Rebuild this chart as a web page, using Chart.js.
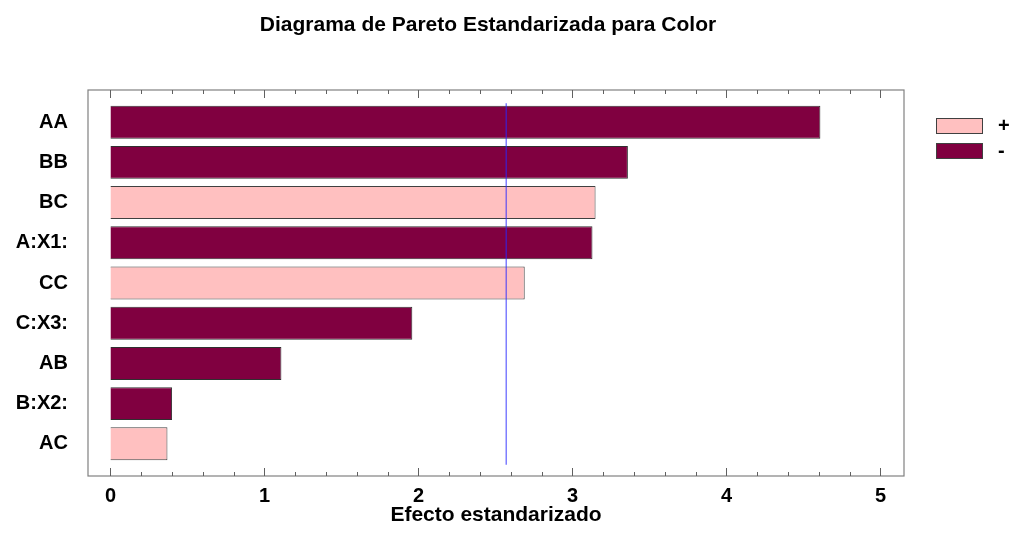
<!DOCTYPE html>
<html>
<head>
<meta charset="utf-8">
<script src="https://cdn.jsdelivr.net/npm/chart.js@4.4.1/dist/chart.umd.min.js"></script>
<style>
  html, body { margin: 0; padding: 0; background: #fff; }
  #wrap { width: 1012px; height: 534px; }
</style>
</head>
<body>
<div id="wrap"><canvas id="grafico"></canvas></div>
<script>
// Datos
const efectos = ['AA', 'BB', 'BC', 'A:X1:', 'CC', 'C:X3:', 'AB', 'B:X2:', 'AC'];
const valores = [4.61, 3.36, 3.15, 3.13, 2.69, 1.96, 1.11, 0.40, 0.37];
const signos  = ['-', '-', '+', '-', '+', '-', '-', '-', '+'];
const ticksX  = [0, 1, 2, 3, 4, 5];
const valorCritico = 2.57;
const titulo = 'Diagrama de Pareto Estandarizada para Color';

const colorPos = '#FFC0C0';
const colorNeg = '#800040';
const fuente = "'Liberation Sans', Arial, sans-serif";

function serie(signo) {
  const puntos = [];
  efectos.forEach((e, i) => {
    if (signos[i] === signo) puntos.push({ x: valores[i], y: i });
  });
  return puntos;
}

// Título, marco, marcas de los ejes, línea crítica y leyenda
const decoracion = {
  id: 'decoracion',
  afterDatasetsDraw(chart) {
    const { ctx, chartArea: a, scales } = chart;
    const x = scales.x, y = scales.y;
    ctx.save();

    // título
    ctx.fillStyle = '#000';
    ctx.font = 'bold 21px ' + fuente;
    ctx.textAlign = 'center';
    ctx.textBaseline = 'middle';
    ctx.fillText(titulo, 488, 25);

    // línea del valor crítico
    const xc = x.getPixelForValue(valorCritico);
    ctx.strokeStyle = 'rgba(40,40,255,0.6)';
    ctx.lineWidth = 1.5;
    ctx.beginPath();
    ctx.moveTo(xc, y.getPixelForValue(-0.47));
    ctx.lineTo(xc, y.getPixelForValue(8.52));
    ctx.stroke();

    // marco
    ctx.strokeStyle = '#808080';
    ctx.lineWidth = 1.2;
    ctx.strokeRect(a.left, a.top, a.right - a.left, a.bottom - a.top);

    // marcas arriba y abajo
    ctx.strokeStyle = '#606060';
    ctx.lineWidth = 1;
    for (let v = 0; v <= 5.001; v += 0.2) {
      const px = Math.round(x.getPixelForValue(v)) + 0.5;
      const mayor = Math.abs(v - Math.round(v)) < 0.001;
      const len = mayor ? 8 : 4;
      ctx.beginPath();
      ctx.moveTo(px, a.bottom);
      ctx.lineTo(px, a.bottom - len);
      ctx.moveTo(px, a.top);
      ctx.lineTo(px, a.top + len);
      ctx.stroke();
    }

    // leyenda
    chart.data.datasets.forEach((ds, i) => {
      const ly = 118 + i * 25;
      ctx.fillStyle = ds.backgroundColor;
      ctx.fillRect(936, ly, 46, 15);
      ctx.strokeStyle = '#404040';
      ctx.strokeRect(936.5, ly + 0.5, 46, 15);
      ctx.fillStyle = '#000';
      ctx.font = 'bold 20px ' + fuente;
      ctx.textAlign = 'left';
      ctx.fillText(ds.label, 998, ly + 8);
    });
    ctx.restore();
  }
};

new Chart(document.getElementById('grafico'), {
  type: 'bar',
  data: {
    datasets: [
      { label: '+', data: serie('+'), backgroundColor: colorPos, borderColor: '#404040', borderWidth: 1 },
      { label: '-', data: serie('-'), backgroundColor: colorNeg, borderColor: '#303030', borderWidth: 1 }
    ]
  },
  options: {
    indexAxis: 'y',
    responsive: true,
    maintainAspectRatio: false,
    animation: false,
    grouped: false,
    categoryPercentage: 1,
    barPercentage: 0.82,
    layout: { padding: { left: 0, right: 108, top: 90, bottom: 0 } },
    plugins: {
      legend: { display: false },
      tooltip: { enabled: false },
      title: { display: false }
    },
    scales: {
      x: {
        type: 'linear',
        min: -0.146,
        max: 5.153,
        grid: { display: false },
        border: { display: false },
        afterBuildTicks: (s) => { s.ticks = ticksX.map(v => ({ value: v })); },
        afterFit: (s) => { s.height = 58; },
        ticks: {
          color: '#000',
          padding: 0,
          maxRotation: 0,
          font: { family: fuente, size: 20, weight: 'bold' }
        },
        title: {
          display: true,
          text: 'Efecto estandarizado',
          color: '#000',
          font: { family: fuente, size: 21, weight: 'bold' },
          padding: { top: 0, bottom: 6 }
        }
      },
      y: {
        type: 'linear',
        reverse: true,
        offset: false,
        min: -0.8,
        max: 8.8,
        grid: { display: false },
        border: { display: false },
        afterBuildTicks: (s) => { s.ticks = efectos.map((e, i) => ({ value: i })); },
        afterFit: (s) => { s.width = 88; },
        ticks: {
          color: '#000',
          padding: 12,
          font: { family: fuente, size: 20, weight: 'bold' },
          callback: (v) => efectos[v]
        }
      }
    }
  },
  plugins: [decoracion]
});
</script>
</body>
</html>
